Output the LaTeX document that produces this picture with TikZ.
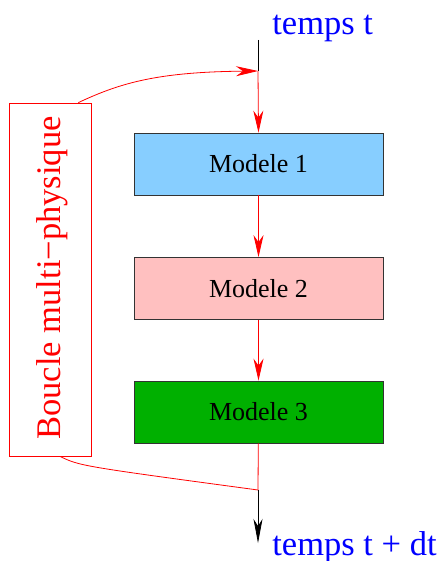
\documentclass[tikz,border=0pt]{standalone}
\usepackage{fontspec}
\setmainfont{Liberation Serif}
\usetikzlibrary{arrows.meta}
\definecolor{bleu}{RGB}{135,206,255}
\definecolor{rose}{RGB}{255,192,192}
\definecolor{vert}{RGB}{0,176,0}

\begin{document}
\begin{tikzpicture}[x=1pt,y=-1pt,line width=0.8pt,
  modele/.style={draw=black!80,minimum width=249pt,minimum height=62pt,inner sep=0pt,font=\fontsize{26}{30}\selectfont},
  fleche/.style={red,-{Stealth[length=22pt,width=10pt,inset=7pt]}},
  temps/.style={blue,anchor=base west,inner sep=0pt,font=\fontsize{34.5}{40}\selectfont}]
\useasboundingbox (0,0) rectangle (443,561);
\node[modele,fill=bleu] (m1) at (258.5,164) {Modele 1};
\node[modele,fill=rose] (m2) at (258.5,288.5) {Modele 2};
\node[modele,fill=vert] (m3) at (258.5,412) {Modele 3};
\node[draw=red,minimum width=82pt,minimum height=353pt,inner sep=0pt] (boucle) at (50,279.5) {};
\node[red,rotate=90,inner sep=0pt,font=\fontsize{34.5}{40}\selectfont] (boucletxt) at (52,278) {Boucle multi−physique};
\coordinate (haut) at (258,40);
\coordinate (entree) at (258,71);
\coordinate (sortie) at (258,490);
\coordinate (bas) at (258,543);
\node[temps] (tt) at (272,35) {temps t};
\node[temps] (ttdt) at (272,555) {temps t + dt};
% boucle
\draw (haut) -- (entree);
\draw[fleche] ([xshift=-13pt]boucle.north east) .. controls (122,82) and (160,72) .. (entree);
\draw[fleche] (entree) -- (m1.north);
\draw[fleche] (m1) -- (m2);
\draw[fleche] (m2) -- (m3);
\draw[red] (m3) -- (sortie);
\draw[red] ([xshift=10pt]boucle.south) .. controls (80,466) .. (sortie);
\draw[-{Stealth[length=24pt,width=9pt,inset=7pt]}] (sortie) -- (bas);
\end{tikzpicture}
\end{document}
